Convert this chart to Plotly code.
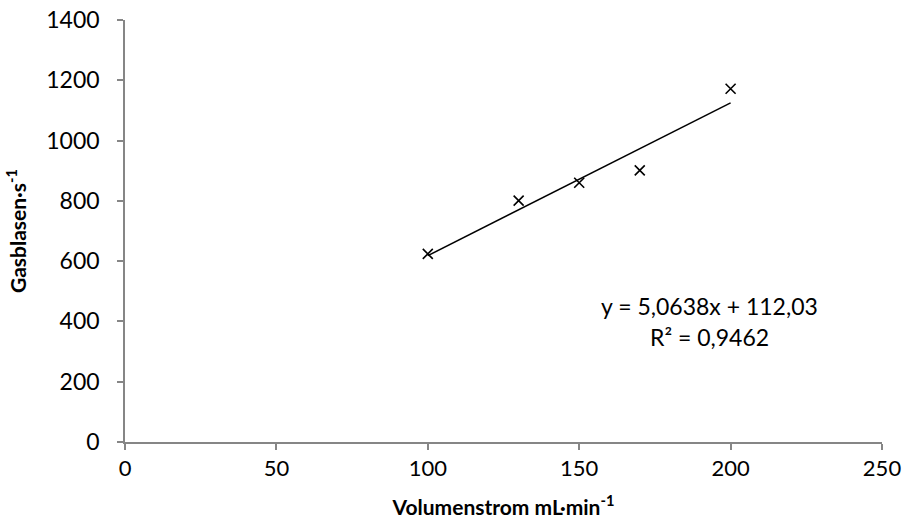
import numpy as np
import plotly.graph_objects as go

flow = [100, 130, 150, 170, 200]          # Volumenstrom mL/min
bubbles = [624, 801, 860, 901, 1172]      # Gasblasen/s

x_ticks = [0, 50, 100, 150, 200, 250]
y_ticks = [0, 200, 400, 600, 800, 1000, 1200, 1400]

eq_text = "y = 5,0638x + 112,03"
r2_text = "R² = 0,9462"

slope, intercept = np.polyfit(flow, bubbles, 1)
fit_x = [min(flow), max(flow)]
fit_y = [slope * v + intercept for v in fit_x]

FONT = "Lato, 'Open Sans', sans-serif"
AXIS_COLOR = "#868686"

fig = go.Figure()
fig.add_trace(go.Scatter(x=fit_x, y=fit_y, mode="lines",
                         line=dict(color="black", width=1.5),
                         showlegend=False, hoverinfo="skip"))
fig.add_trace(go.Scatter(x=flow, y=bubbles, mode="markers",
                         marker=dict(symbol="x-thin", size=10,
                                     line=dict(color="black", width=1.6)),
                         showlegend=False))

fig.add_annotation(x=193, y=450, xref="x", yref="y", text=eq_text,
                   showarrow=False, xanchor="center", yanchor="middle",
                   font=dict(family=FONT, size=23, color="black"))
fig.add_annotation(x=193, y=348, xref="x", yref="y", text=r2_text,
                   showarrow=False, xanchor="center", yanchor="middle",
                   font=dict(family=FONT, size=23, color="black"))

fig.update_xaxes(range=[0, 250], tickvals=x_ticks, showgrid=False,
                 zeroline=False, showline=True, linecolor=AXIS_COLOR,
                 linewidth=1.5, ticks="outside", ticklen=6,
                 tickcolor=AXIS_COLOR, tickwidth=1.5,
                 tickfont=dict(family=FONT, size=22, color="black"),
                 title=dict(text="<b>Volumenstrom mL·min<sup>-1</sup></b>",
                            font=dict(family=FONT, size=21, color="black"),
                            standoff=20))
fig.update_yaxes(range=[0, 1400], tickvals=y_ticks, showgrid=False,
                 zeroline=False, showline=True, linecolor=AXIS_COLOR,
                 linewidth=1.5, ticks="outside", ticklen=6,
                 tickcolor=AXIS_COLOR, tickwidth=1.5,
                 ticklabelstandoff=13,
                 tickfont=dict(family=FONT, size=23, color="black"),
                 title=dict(text="<b>Gasblasen·s<sup>-1</sup></b>",
                            font=dict(family=FONT, size=21, color="black"),
                            standoff=14))

fig.update_layout(width=907, height=531,
                  margin=dict(l=125, r=25, t=20, b=89, autoexpand=False),
                  plot_bgcolor="white", paper_bgcolor="white")

fig.write_html("out.html")
